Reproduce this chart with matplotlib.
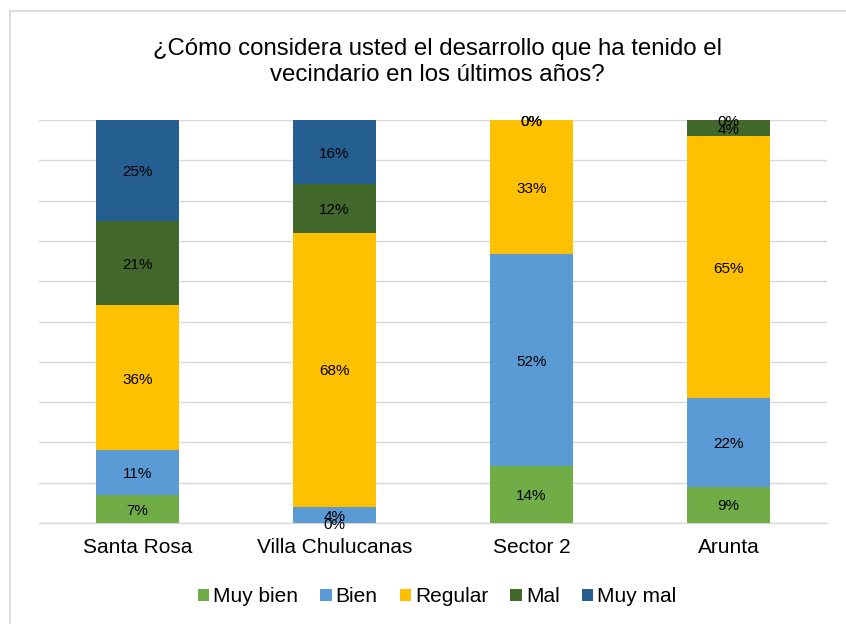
import numpy as np
import matplotlib.pyplot as plt
from matplotlib.lines import Line2D

plt.rcParams["font.family"] = ["Liberation Sans", "DejaVu Sans"]

# ------------------------------------------------------------
# Data (percentages as shown on the chart)
# ------------------------------------------------------------
CATEGORIES = ["Santa Rosa", "Villa Chulucanas", "Sector 2", "Arunta"]
SERIES = ["Muy bien", "Bien", "Regular", "Mal", "Muy mal"]

MUY_BIEN = [7, 0, 14, 9]
BIEN = [11, 4, 52, 22]
REGULAR = [36, 68, 33, 65]
MAL = [21, 12, 0, 4]
MUY_MAL = [25, 16, 0, 0]

COLORS = ["#70AD47", "#5B9BD5", "#FFC000", "#43682B", "#255E91"]
TITLE = "¿Cómo considera usted el desarrollo que ha tenido el\nvecindario en los últimos años?"

W, H = 846, 624


def main():
    fig = plt.figure(figsize=(W / 100, H / 100), dpi=100)
    ax = fig.add_axes([39 / W, 1 - 523 / H, 788 / W, 403 / H])

    values = np.array([MUY_BIEN, BIEN, REGULAR, MAL, MUY_MAL], dtype=float)
    shares = values / values.sum(axis=0) * 100  # 100% stacked
    x = np.arange(len(CATEGORIES))
    bottom = np.zeros(len(CATEGORIES))
    handles = []
    for i, name in enumerate(SERIES):
        bars = ax.bar(x, shares[i], bottom=bottom, width=0.42,
                      color=COLORS[i], label=name, zorder=3)
        handles.append(bars)
        for j in range(len(CATEGORIES)):
            yc = bottom[j] + shares[i][j] / 2
            ax.text(x[j], yc - 0.4, f"{values[i][j]:.0f}%", ha="center",
                    va="center", fontsize=11, color="#000000", zorder=4)
        bottom += shares[i]

    ax.set_xlim(-0.5, len(CATEGORIES) - 0.5)
    ax.set_ylim(0, 100)
    ax.set_yticks(np.arange(0, 101, 10))
    ax.set_yticklabels([])
    ax.set_xticks(x)
    ax.set_xticklabels(CATEGORIES, fontsize=15)
    ax.tick_params(axis="both", length=0)
    ax.tick_params(axis="x", pad=11)
    ax.grid(axis="y", color="#D9D9D9", linewidth=1, zorder=0)
    for side in ["top", "right", "left"]:
        ax.spines[side].set_visible(False)
    ax.spines["bottom"].set_color("#D9D9D9")
    ax.spines["bottom"].set_linewidth(1)

    fig.text(437 / W, 1 - 62 / H, TITLE, ha="center", va="center",
             fontsize=17.3, linespacing=1.2, color="#000000")

    fig.legend(handles=handles, labels=SERIES, loc="center",
               bbox_to_anchor=(437 / W, 1 - 597 / H), ncol=5,
               frameon=False, fontsize=15, handlelength=0.55,
               handleheight=0.55, handletextpad=0.2, columnspacing=1.05)

    # chart-area border (left and top edges visible)
    fig.add_artist(Line2D([10 / W, 10 / W], [0, 1 - 11 / H],
                          transform=fig.transFigure, color="#D9D9D9", lw=1.3))
    fig.add_artist(Line2D([10 / W, 1], [1 - 11 / H, 1 - 11 / H],
                          transform=fig.transFigure, color="#D9D9D9", lw=1.3))

    fig.savefig("out.png", dpi=100)
    plt.close(fig)


if __name__ == "__main__":
    main()
